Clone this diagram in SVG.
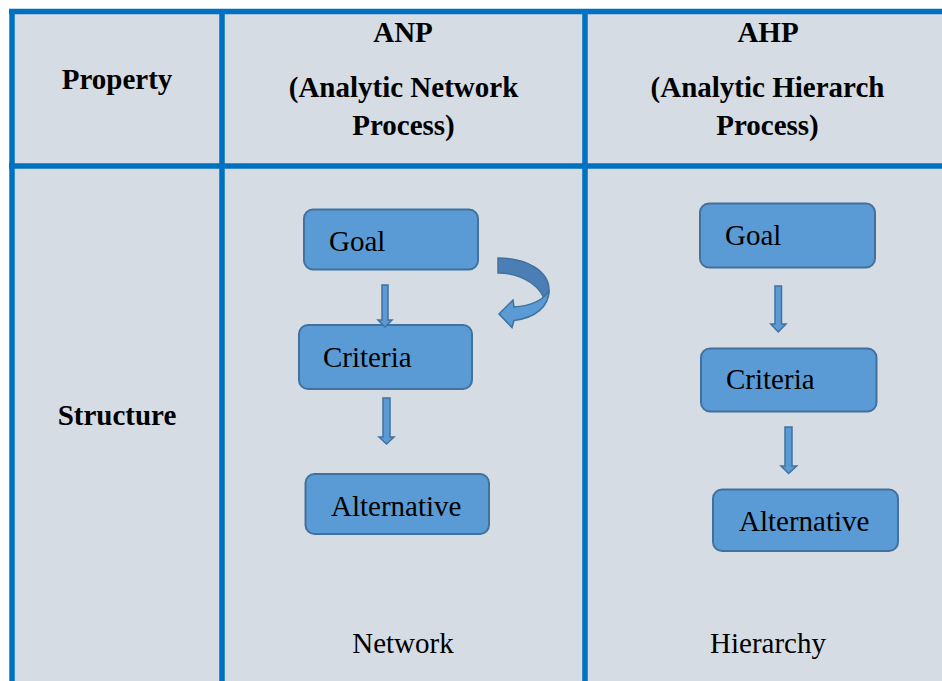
<svg xmlns="http://www.w3.org/2000/svg" width="942" height="681" viewBox="0 0 942 681" font-family="'Liberation Serif', 'Times New Roman', serif">
<style>
.grid{stroke:#0070C0;stroke-width:5.5;fill:none}
.hdr{font-weight:bold;font-size:29px;fill:#000;text-anchor:middle}
.cap{font-size:29px;fill:#000;text-anchor:middle}
.box{fill:#5B9BD5;stroke:#41719C;stroke-width:2}
.lbl{font-size:29px;fill:#000}
.arr{fill:#5B9BD5;stroke:#41719C;stroke-width:1.5;stroke-linejoin:miter}
</style>
<rect width="942" height="681" fill="#FFFFFF"/>
<rect x="12" y="11.5" width="940" height="680" fill="#D6DCE4"/>
<g id="table">
<line class="grid" x1="9" y1="11.5" x2="942" y2="11.5"/>
<line class="grid" x1="9" y1="166" x2="942" y2="166"/>
<line class="grid" x1="12" y1="9" x2="12" y2="681"/>
<line class="grid" x1="222" y1="9" x2="222" y2="681"/>
<line class="grid" x1="585" y1="9" x2="585" y2="681"/>
</g>
<g id="headers">
<text class="hdr" x="117" y="89">Property</text>
<text class="hdr" x="403" y="41.5">ANP</text>
<text class="hdr" x="403.5" y="96.5">(Analytic Network</text>
<text class="hdr" x="403.5" y="135">Process)</text>
<text class="hdr" x="768" y="41.5">AHP</text>
<text class="hdr" x="767.5" y="96.5">(Analytic Hierarch</text>
<text class="hdr" x="767.5" y="135">Process)</text>
<text class="hdr" x="117" y="425">Structure</text>
<text class="cap" x="403" y="653">Network</text>
<text class="cap" x="768" y="653">Hierarchy</text>
</g>
<g id="anp-goal"><rect class="box" x="304" y="209.5" width="174" height="60" rx="9"/><text class="lbl" x="329" y="251">Goal</text></g>
<g id="anp-criteria"><rect class="box" x="299" y="325" width="173" height="64" rx="9"/><text class="lbl" x="323" y="366.5">Criteria</text></g>
<g id="anp-alternative"><rect class="box" x="305.5" y="474" width="183.5" height="60" rx="9"/><text class="lbl" x="331" y="516">Alternative</text></g>
<g id="ahp-goal"><rect class="box" x="700" y="203.5" width="175" height="64" rx="9"/><text class="lbl" x="725" y="244.5">Goal</text></g>
<g id="ahp-criteria"><rect class="box" x="701" y="348.5" width="175.5" height="63" rx="9"/><text class="lbl" x="726" y="389">Criteria</text></g>
<g id="ahp-alternative"><rect class="box" x="713" y="489.5" width="185" height="61.5" rx="9"/><text class="lbl" x="739" y="530.5">Alternative</text></g>
<g id="connectors">
<path class="arr" d="M382,285 H388 V320 H392 L385,327 L378,320 H382 Z"/>
<path class="arr" d="M383,398 H390 V437 H394 L386.5,444 L379,437 H383 Z"/>
<path class="arr" d="M775,286 H781.5 V324 H786 L778.3,332 L770.7,324 H775 Z"/>
<path class="arr" d="M785,427 H792 V466 H796.7 L788.6,473.5 L781,466 H785 Z"/>
<path d="M498,258 C528,258 549,272 549,290 C549,296 547,300 545,303 C543,289 525,273 498,273 Z" fill="#4A7EB5" stroke="#41719C" stroke-width="1.5"/>
<path d="M549,290 C549,307 535,318 514,320.5 L512,327.5 L499,314 L513,300 L514,307 C530,306 545,300 549,290 Z" fill="#5B9BD5" stroke="#41719C" stroke-width="1.5" stroke-linejoin="miter"/>
</g>
</svg>
